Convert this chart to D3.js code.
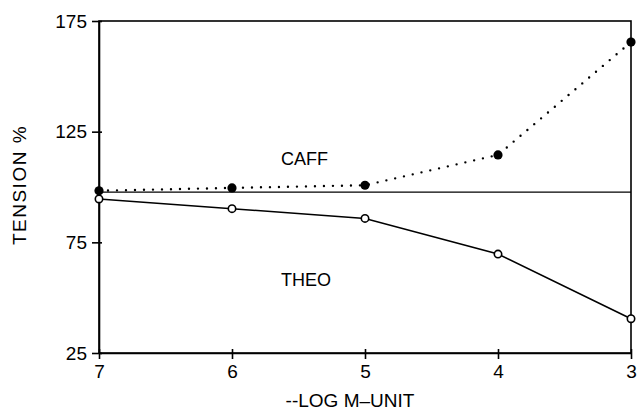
<!DOCTYPE html>
<html>
<head>
<meta charset="utf-8">
<script src="https://cdn.jsdelivr.net/npm/d3@7"></script>
<style>
  body { margin: 0; background: #fff; }
  svg { display: block; }
  text { font-family: "Liberation Sans", Arial, sans-serif; fill: #000; }
</style>
</head>
<body>
<svg id="chart"></svg>
<script>
var screen = {width: 639, height: 412};
var margins = {top: 21, right: 8, bottom: 59, left: 99};

// -log M unit (x), reversed axis 7 -> 3
var logUnits = [7, 6, 5, 4, 3];
var caffValues = [98.3, 99.6, 100.8, 114.5, 165.5];
var theoValues = [94.6, 90.2, 85.8, 69.7, 40.5];
var controlLevel = [97.7];
var yTicks = [25, 75, 125, 175];

var width = screen.width - margins.left - margins.right;
var height = screen.height - margins.top - margins.bottom;

var svg = d3.select("#chart")
    .attr("width", screen.width)
    .attr("height", screen.height);

var g = svg.append("g")
    .attr("transform", "translate(" + margins.left + "," + margins.top + ")");

var xScale = d3.scaleLinear()
    .domain([7, 3])
    .range([0, width]);

var yScale = d3.scaleLinear()
    .domain([25, 175])
    .range([height, 0]);

// frame
g.append("rect")
    .attr("x", 0)
    .attr("y", 0)
    .attr("width", width)
    .attr("height", height)
    .attr("fill", "none")
    .attr("stroke", "#000")
    .attr("stroke-width", 1.6);

var xAxis = d3.axisBottom(xScale)
    .tickValues(logUnits)
    .tickFormat(d3.format("d"))
    .tickSizeInner(6)
    .tickSizeOuter(0)
    .tickPadding(6);

var yAxis = d3.axisLeft(yScale)
    .tickValues(yTicks)
    .tickSizeInner(7)
    .tickSizeOuter(0)
    .tickPadding(5);

var gx = g.append("g")
    .attr("transform", "translate(0," + height + ")")
    .call(xAxis);

var gy = g.append("g")
    .call(yAxis);

[gx, gy].forEach(function(ax) {
    ax.select(".domain").attr("stroke-width", 1.6);
    ax.selectAll(".tick line").attr("stroke-width", 1.6);
    ax.selectAll(".tick text")
        .style("font-size", "19px")
        .style("font-family", "'Liberation Sans', Arial, sans-serif");
});
// ticks cross the axis a little
gx.selectAll(".tick line").attr("y1", -4);
gy.selectAll(".tick line").attr("x1", 3);

// control level line
g.selectAll(".control")
    .data(controlLevel)
    .enter()
    .append("line")
    .attr("class", "control")
    .attr("x1", 0)
    .attr("x2", width)
    .attr("y1", function(d) { return yScale(d); })
    .attr("y2", function(d) { return yScale(d); })
    .attr("stroke", "#000")
    .attr("stroke-width", 1.4);

var caff = logUnits.map(function(x, i) { return {x: x, y: caffValues[i]}; });
var theo = logUnits.map(function(x, i) { return {x: x, y: theoValues[i]}; });

var line = d3.line()
    .x(function(d) { return xScale(d.x); })
    .y(function(d) { return yScale(d.y); });

// CAFF dotted
g.append("path")
    .datum(caff)
    .attr("fill", "none")
    .attr("stroke", "#000")
    .attr("stroke-width", 2.4)
    .attr("stroke-linecap", "round")
    .attr("stroke-dasharray", "0,9")
    .attr("d", line);

// THEO solid
g.append("path")
    .datum(theo)
    .attr("fill", "none")
    .attr("stroke", "#000")
    .attr("stroke-width", 1.6)
    .attr("d", line);

g.selectAll(".caffDot")
    .data(caff)
    .enter()
    .append("circle")
    .attr("cx", function(d) { return xScale(d.x); })
    .attr("cy", function(d) { return yScale(d.y); })
    .attr("r", 4.6)
    .attr("fill", "#000");

g.selectAll(".theoDot")
    .data(theo)
    .enter()
    .append("circle")
    .attr("cx", function(d) { return xScale(d.x); })
    .attr("cy", function(d) { return yScale(d.y); })
    .attr("r", 3.7)
    .attr("fill", "#fff")
    .attr("stroke", "#000")
    .attr("stroke-width", 1.6);

// series labels
svg.append("text")
    .attr("x", 281)
    .attr("y", 165)
    .style("font-size", "18px")
    .text("CAFF");

svg.append("text")
    .attr("x", 281)
    .attr("y", 286)
    .style("font-size", "18px")
    .text("THEO");

// axis titles
svg.append("text")
    .attr("x", 350)
    .attr("y", 407)
    .attr("text-anchor", "middle")
    .style("font-size", "19px")
    .text("--LOG M\u2013UNIT");

svg.append("text")
    .attr("transform", "translate(26," + 185 + ") rotate(-90)")
    .attr("text-anchor", "middle")
    .style("font-size", "19px")
    .style("letter-spacing", "1.5px")
    .text("TENSION %");
</script>
</body>
</html>
